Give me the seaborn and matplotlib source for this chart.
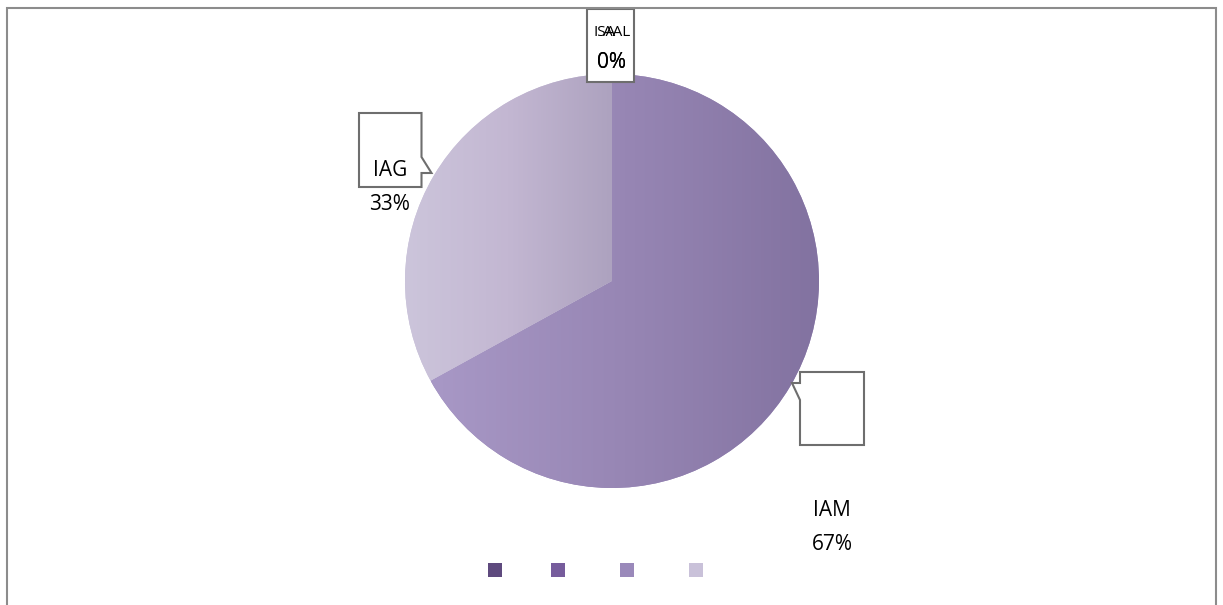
import numpy as np
import matplotlib
matplotlib.use("Agg")
import matplotlib.pyplot as plt
from matplotlib.patches import Polygon, Rectangle
import seaborn as sns

# dados do gráfico
categories = ["ISA", "AAL", "IAM", "IAG"]
values = [0, 0, 67, 33]
pct_labels = ["0%", "0%", "67%", "33%"]
legend_colors = ["#5e4a7e", "#765c9c", "#9a89ba", "#c9c1d9"]
gradients = {
    "IAM": ["#a898c6", "#9786b4", "#8272a0"],
    "IAG": ["#ccc5db", "#c3b7d2", "#ada2bf"],
}

sns.set_theme(style="white")
plt.rcParams['font.family'] = ['Open Sans', 'DejaVu Sans']

W, H = 1223, 605
CX, CY, R = 612, 281, 207


def px(x, y):
    # pixel da imagem -> coordenadas de dados (raio da pizza = 1)
    return (x - CX) / R, (CY - y) / R


fig = plt.figure(figsize=(W / 100, H / 100), dpi=100)
ax = fig.add_axes([0, 0, 1, 1])

wedges, _ = ax.pie(values, colors=legend_colors, startangle=90, counterclock=False,
                   radius=1, center=(0, 0), wedgeprops=dict(linewidth=0))

# gradiente horizontal em cada fatia
for w, cat, v in zip(wedges, categories, values):
    if v == 0 or cat not in gradients:
        continue
    ext = w.get_path().get_extents()
    cmap = sns.blend_palette(gradients[cat], as_cmap=True)
    grad = np.linspace(0, 1, 256).reshape(1, -1)
    im = ax.imshow(grad, cmap=cmap, aspect='auto', interpolation='bilinear',
                   extent=[ext.x0, ext.x1, ext.y0, ext.y1], zorder=2)
    im.set_clip_path(w)

x0, _ = px(0, 0)
x1, _ = px(W, 0)
_, y0 = px(0, H)
_, y1 = px(0, 0)
ax.set_xlim(x0, x1)
ax.set_ylim(y0, y1)
ax.set_aspect('auto')
ax.axis('off')

# caixas dos rótulos (estilo callout)
box_style = dict(facecolor='white', edgecolor='#6e6e6e', linewidth=1.5, zorder=4)
iag_box = [(359, 113), (421.5, 113), (421.5, 157), (431.5, 173), (421.5, 173), (421.5, 187), (359, 187)]
iam_box = [(800, 372), (864, 372), (864, 445), (800, 445), (800, 400), (792, 383), (800, 383)]
isa_box = [(587, 9), (633.5, 9), (633.5, 82), (587, 82)]
for box in [iag_box, iam_box, isa_box]:
    ax.add_patch(Polygon([px(*p) for p in box], closed=True, **box_style))

label_pos = {
    "ISA": [(605, 32), (611, 63)],
    "AAL": [(617, 32), (611, 63)],
    "IAM": [(832, 510), (832, 544)],
    "IAG": [(390, 171), (390, 204)],
}
for cat, pct in zip(categories, pct_labels):
    (tx, ty), (qx, qy) = label_pos[cat]
    fs = 11 if cat in ("ISA", "AAL") else 15
    ax.text(*px(tx, ty), cat, ha='center', va='center', fontsize=fs, color='black', zorder=5)
    ax.text(*px(qx, qy), pct, ha='center', va='center', fontsize=15, color='black', zorder=5)

# legenda (os textos aparecem em branco na referência)
leg = ax.legend(wedges, categories, loc='center', ncol=4, frameon=False, fontsize=15,
                handlelength=0.67, handleheight=0.67, handletextpad=0.4, columnspacing=0.45,
                bbox_to_anchor=(617 / W, 1 - 572 / H), bbox_transform=fig.transFigure)
for t in leg.get_texts():
    t.set_color('white')

# moldura do gráfico
fig.add_artist(Rectangle((7 / W, -0.1), (1216 - 7) / W, 1.1 - 8 / H, transform=fig.transFigure,
                         fill=False, edgecolor='#8c8c8c', linewidth=1.5))

fig.savefig('out.png', dpi=100, facecolor='white')
